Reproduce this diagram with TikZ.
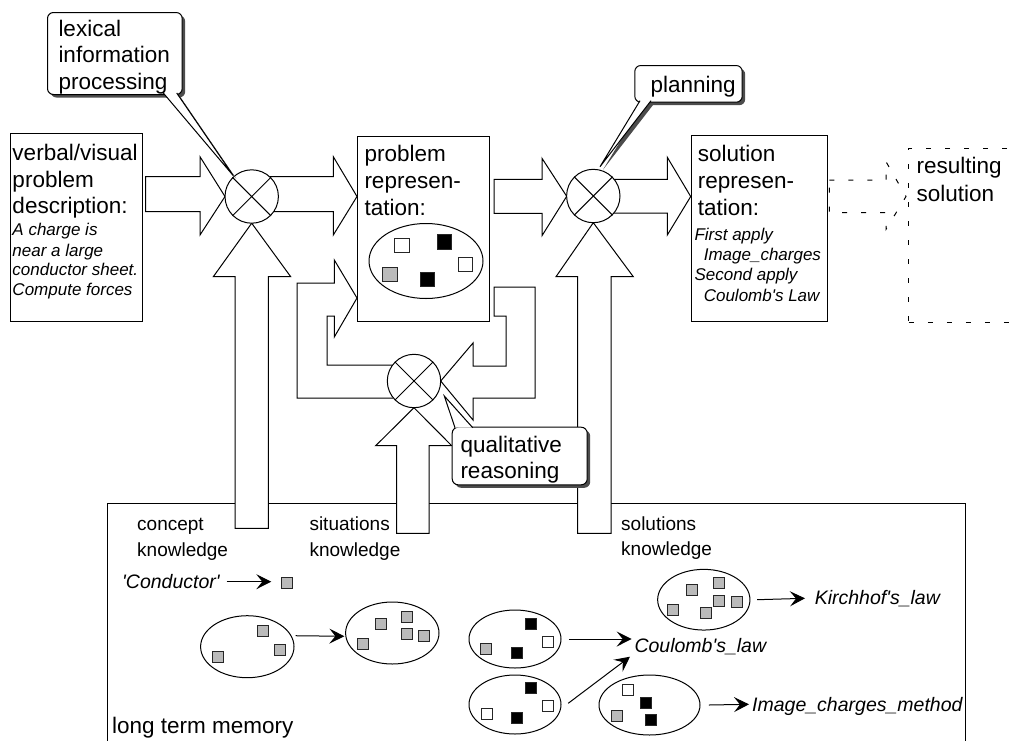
\documentclass[tikz,border=0pt]{standalone}
\usepackage{fontspec}
\setmainfont{Liberation Sans}
\usetikzlibrary{shapes.geometric,arrows.meta,shadows,calc}
\begin{document}
\begin{tikzpicture}[x=1pt,y=-1pt, line width=1pt,
  box/.style={draw, rectangle, inner sep=0pt, anchor=north west, fill=white},
  xcirc/.style={draw, circle, fill=white, inner sep=0pt, minimum size=53.4pt},
  barrow/.style={draw, fill=white, line join=miter},
  callbox/.style={draw, rectangle, rounded corners=6pt, fill=white, inner sep=0pt, anchor=north west,
    drop shadow={shadow xshift=3pt, shadow yshift=-3pt, fill=black!70, opacity=1}},
  shadowc/.style={fill=black!70},
  tl/.style={anchor=base west, inner sep=0pt, font=\fontsize{22.5pt}{27pt}\selectfont},
  ti/.style={anchor=base west, inner sep=0pt, font=\fontsize{17pt}{20pt}\selectfont\itshape},
  tk/.style={anchor=base west, inner sep=0pt, font=\fontsize{19pt}{23pt}\selectfont},
  tli/.style={anchor=base west, inner sep=0pt, font=\fontsize{19.5pt}{23pt}\selectfont\itshape},
  memell/.style={draw, ellipse, inner sep=0pt},
  sq/.style={draw=black!85, rectangle, inner sep=0pt, minimum size=11pt, line width=0.8pt},
  sqg/.style={sq, fill=black!27},
  sqb/.style={sq, fill=black},
  sqw/.style={sq, fill=white},
  bsq/.style={minimum size=14.5pt},
  larr/.style={-{Stealth[length=15pt,width=15pt,inset=6pt]}, line width=1pt},
  dashbox/.style={dash pattern=on 5pt off 14pt},
]
\useasboundingbox (0,0) rectangle (1015,740);

% long term memory frame (open at the bottom)
\node[box, fill=none, minimum width=857.7pt, minimum height=300pt] (ltm) at (107.3,502.7) {};

% resulting solution (dashed, open at the right)
\node[box, fill=none, dashbox, minimum width=200pt, minimum height=173.4pt] (res) at (908.3,148.3) {};

% main boxes
\node[box, minimum width=132pt, minimum height=188pt] (verbal) at (10,133) {};
\node[box, minimum width=132pt, minimum height=185pt] (prob) at (357,136) {};
\node[box, minimum width=136pt, minimum height=186pt] (sol) at (690.7,135) {};

% horizontal block arrows
\draw[barrow] (145.7,176.7) -- (200,176.7) -- (200,156.7) -- (225,196.5) -- (200,235) -- (200,211.7) -- (145.7,211.7) -- cycle;
\draw[barrow] (269.6,176.7) -- (333.3,176.7) -- (333.3,156.7) -- (prob.west |- 0,196.5) -- (333.3,235) -- (333.3,211.7) -- (273.6,211.7);
\draw[barrow] (494,179.3) -- (542,179.3) -- (542,158.3) -- (566.7,196.3) -- (542,235.7) -- (542,213.3) -- (494,213.3) -- cycle;
\draw[barrow] (614.1,179.3) -- (667.3,179.3) -- (667.3,157.3) -- (sol.west |- 0,196.5) -- (667.3,235) -- (667.3,213) -- (613.9,213);
\draw[barrow, dashbox] (829.3,180) -- (886,180) -- (886,161.7) -- (906,196.5) -- (886,229.3) -- (886,212.7) -- (829.3,212.7) -- cycle;

% vertical block arrows from long term memory
\draw[barrow] (235,528.3) -- (235,276.7) -- (213.3,276.7) -- (251.7,223.2) -- (290.7,276.7) -- (268.3,276.7) -- (268.3,528.3) -- cycle;
\draw[barrow] (396.7,533.3) -- (396.7,445.7) -- (375.7,445.7) -- (414,407.7) -- (451.7,445.7) -- (429,445.7) -- (429,533.3) -- cycle;
\draw[barrow] (577.7,533.3) -- (577.7,276.7) -- (556,276.7) -- (593.3,222.7) -- (633.3,276.7) -- (611,276.7) -- (611,533.3) -- cycle;

% qualitative reasoning loop arrows
\draw[barrow] (392.6,365) -- (327,365) -- (327,316) -- (334.3,316) -- (334.3,337) -- (prob.west |- 0,298) -- (334.3,260) -- (334.3,283) -- (297,283) -- (297,398) -- (393.4,398);
\draw[barrow] (494,287) -- (535,287) -- (535,398) -- (473,398) -- (473,420) -- (440.7,381) -- (473,343) -- (473,366) -- (506,366) -- (506,316) -- (494,316) -- cycle;

% combining circles
\node[xcirc] (c1) at (251.7,196.5) {};
\node[xcirc] (c2) at (593.3,196) {};
\node[xcirc] (c3) at (414,381) {};
\foreach \c in {c1,c2,c3} {\draw (\c.45) -- (\c.225) (\c.135) -- (\c.315);}

% problem representation contents
\node[tl] (pr1) at (364,161.7) {problem};
\node[tl] (pr2) at (364,188.3) {represen-};
\node[tl] (pr3) at (364,215) {tation:};
\node[memell, minimum width=114pt, minimum height=75pt] (pe) at (426,261) {};
\node[sqw,bsq] (pq1) at (401.7,245.5) {};
\node[sqb,bsq] (pq2) at (444.2,241.8) {};
\node[sqw,bsq] (pq3) at (465.5,264.2) {};
\node[sqg,bsq] (pq4) at (390,274.2) {};
\node[sqb,bsq] (pq5) at (427.5,279.2) {};

% verbal description
\node[tl] (v1) at (12,160.5) {verbal/visual};
\node[tl] (v2) at (12,187) {problem};
\node[tl] (v3) at (12,213.5) {description:};
\node[ti] (v4) at (12,235.7) {A charge is};
\node[ti] (v5) at (12,256) {near a large};
\node[ti] (v6) at (12,275.7) {conductor sheet.};
\node[ti] (v7) at (12,295.7) {Compute forces};

% solution representation
\node[tl] (s1) at (697.3,161.7) {solution};
\node[tl] (s2) at (697.3,188.3) {represen-};
\node[tl] (s3) at (697.3,215) {tation:};
\node[ti] (s4) at (694,240) {First apply};
\node[ti] (s5) at (703.3,260) {Image\_charges};
\node[ti] (s6) at (694,280.7) {Second apply};
\node[ti] (s7) at (703.3,301.7) {Coulomb\textquotesingle s Law};

% resulting solution
\node[tl] (r1) at (916,173.3) {resulting};
\node[tl] (r2) at (916,201.7) {solution};

% callout: lexical information processing
\coordinate (la) at (163.3,93);
\coordinate (lb) at (176.7,93);
\coordinate (lt) at (233.3,175.7);
\fill[shadowc] ([shift={(3,3)}]la) -- ([shift={(3,3)}]lt) -- ([shift={(3,3)}]lb) -- cycle;
\node[callbox, minimum width=134.7pt, minimum height=82pt] (lexbox) at (47,12) {};
\fill[white] (la) -- (lt) -- (lb) -- cycle;
\draw (la) -- (lt) -- (lb);
\node[tl] (lx1) at (58,36) {lexical};
\node[tl] (lx2) at (58,62.5) {information};
\node[tl] (lx3) at (58,89) {processing};

% callout: planning
\coordinate (pa) at (640,100.7);
\coordinate (pb) at (651,100.7);
\coordinate (pt) at (600,166.7);
\fill[shadowc] ([shift={(3,3)}]pa) -- ([shift={(3,3)}]pt) -- ([shift={(3,3)}]pb) -- cycle;
\node[callbox, minimum width=107.4pt, minimum height=36.7pt] (planbox) at (634.3,65) {};
\fill[white] (pa) -- (pt) -- (pb) -- cycle;
\draw (pa) -- (pt) -- (pb);
\node[tl] (pl1) at (650,92) {planning};

% callout: qualitative reasoning
\coordinate (qa) at (455,427.7);
\coordinate (qb) at (472.7,427.7);
\coordinate (qt) at (444.3,396);
\fill[shadowc] ([shift={(3,3)}]qa) -- ([shift={(3,3)}]qt) -- ([shift={(3,3)}]qb) -- cycle;
\node[callbox, minimum width=135pt, minimum height=57.6pt] (qualbox) at (451.7,426.7) {};
\fill[white] (qa) -- (qt) -- (qb) -- cycle;
\draw (qa) -- (qt) -- (qb);
\node[tl] (q1) at (460,452) {qualitative};
\node[tl] (q2) at (460,478) {reasoning};

% long term memory contents
\node[tk] (ck1) at (136.7,530.7) {concept};
\node[tk] (ck2) at (136.7,556) {knowledge};
\node[tk] (sk1) at (309,530.7) {situations};
\node[tk] (sk2) at (309,556) {knowledge};
\node[tk] (so1) at (620.7,530) {solutions};
\node[tk] (so2) at (620.7,555) {knowledge};
\node[tl] (ltmlabel) at (111.7,733) {long term memory};

\node[tli] (cond) at (121.7,588) {\textquotesingle Conductor\textquotesingle};
\node[sqg] (sq0) at (286.7,583.3) {};
\draw[larr] ([shift={(6.5,-6.3)}]cond.base east) -- ([shift={(-9.5,-1.6)}]sq0.west);

\node[memell, minimum width=93.4pt, minimum height=62pt] (e1) at (247.3,646.7) {};
\node[sqg] at (263.3,630.7) {};
\node[sqg] at (280.3,650) {};
\node[sqg] at (218.3,657.3) {};

\node[memell, minimum width=93.4pt, minimum height=62pt] (e2) at (392.3,633) {};
\node[sqg] at (407.3,616.7) {};
\node[sqg] at (381,624) {};
\node[sqg] at (406.7,634.3) {};
\node[sqg] at (424.3,636) {};
\node[sqg] at (362.7,644) {};
\draw[larr, shorten <=4pt, shorten >=1pt] (e1.14) -- (e2.184);

\node[memell, minimum width=92.3pt, minimum height=60.7pt] (e3) at (703.8,599.7) {};
\node[sqg] at (692.3,590) {};
\node[sqg] at (719.3,582.7) {};
\node[sqg] at (719,600.7) {};
\node[sqg] at (736.5,601.7) {};
\node[sqg] at (673.3,610) {};
\node[sqg] at (705.7,613.3) {};
\node[tli] (kir) at (814.3,604.3) {Kirchhof\textquotesingle s\_law};
\draw[larr] ([xshift=6.7pt]e3.east) -- ([shift={(-9.3,-6)}]kir.base west);

\node[memell, minimum width=92pt, minimum height=58pt] (e4) at (515,639) {};
\node[sqb] at (531,624.3) {};
\node[sqw] at (548.3,642.3) {};
\node[sqg] at (486,649) {};
\node[sqb] at (517.3,653.3) {};
\node[tli] (coul) at (634,652.3) {Coulomb\textquotesingle s\_law};
\draw[larr] ([xshift=7.3pt]e4.east) -- ([shift={(-2.3,-13.3)}]coul.base west);

\node[memell, minimum width=92pt, minimum height=59pt] (e5) at (515,704.5) {};
\node[sqb] at (531,688.3) {};
\node[sqw] at (548.3,706) {};
\node[sqw] at (486.7,714) {};
\node[sqb] at (517.3,718.3) {};
\draw[larr] ([shift={(6.7,-1.2)}]e5.east) -- ([shift={(-4,4.4)}]coul.base west);

\node[memell, minimum width=101pt, minimum height=60pt] (e6) at (649.5,705) {};
\node[sqw] at (628.3,690) {};
\node[sqb] at (646,703.3) {};
\node[sqg] at (617.3,715.7) {};
\node[sqb] at (651,720) {};
\node[tli] (img) at (751.7,711.7) {Image\_charges\_method};
\draw[larr] ([xshift=8.3pt]e6.east) -- ([shift={(-2.7,-7.4)}]img.base west);

\end{tikzpicture}
\end{document}
